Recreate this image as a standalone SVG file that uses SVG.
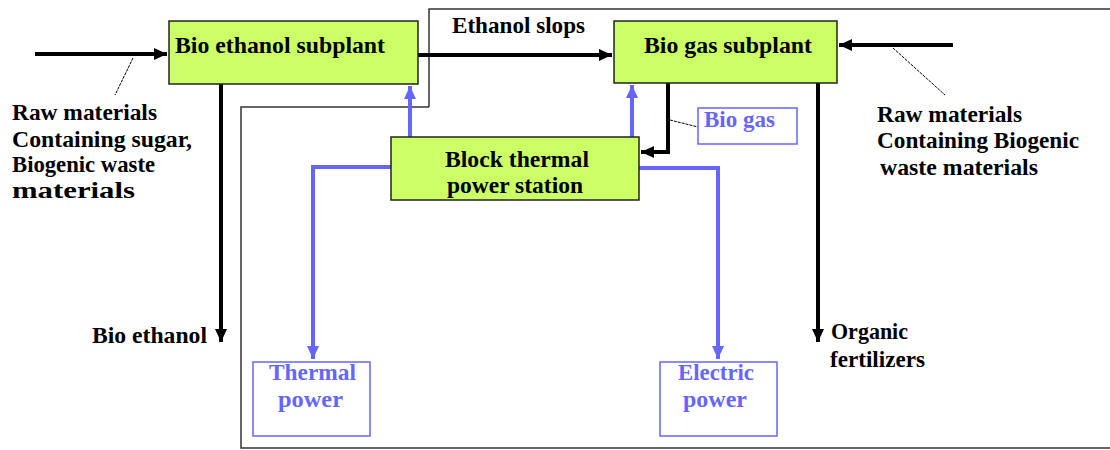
<svg xmlns="http://www.w3.org/2000/svg" width="1110" height="450" viewBox="0 0 1110 450" font-family="'Liberation Serif', 'Times New Roman', 'DejaVu Serif', serif">
<style>
text{font-weight:bold;font-size:24px;fill:#000}
.box{fill:#CCFF66;stroke:#222;stroke-width:1.5}
.bbox{fill:#fff;stroke:#6666FF;stroke-width:1.5}
text.blue{fill:#6666FF}
.blk{fill:none;stroke:#000;stroke-width:4}
.bl{fill:none;stroke:#6666FF;stroke-width:4}
.frame{fill:none;stroke:#333;stroke-width:1.5}
.lead{fill:none;stroke:#000;stroke-width:1;stroke-dasharray:3 1}
</style>
<defs>
<marker id="ab" markerUnits="userSpaceOnUse" markerWidth="14" markerHeight="14" refX="13" refY="7" orient="auto"><path d="M0,1 L13,7 L0,13 z" fill="#000"/></marker>
<marker id="au" markerUnits="userSpaceOnUse" markerWidth="14" markerHeight="14" refX="13" refY="7" orient="auto"><path d="M0,1 L13,7 L0,13 z" fill="#6666FF"/></marker>
</defs>
<g id="frame">
<path class="frame" d="M429,107 L429,9 L1110,9"/>
<path class="frame" d="M429,107 L241,107 L241,448 L1110,448"/>
</g>
<g id="connectors">
<path class="blk" d="M35,54 L167,54" marker-end="url(#ab)"/>
<path class="lead" d="M133,58 L115,95"/>
<path class="blk" d="M953,45 L839,45" marker-end="url(#ab)"/>
<path class="lead" d="M893,48 L945,95"/>
<path class="blk" d="M418,55 L612,55" marker-end="url(#ab)"/>
<path class="blk" d="M221,84 L221,342" marker-end="url(#ab)"/>
<path class="blk" d="M818,83 L818,342" marker-end="url(#ab)"/>
<path class="blk" d="M668,83 L668,152 L641,152" marker-end="url(#ab)"/>
<path class="lead" d="M670,120 L698,127"/>
<path class="bl" d="M410,137 L410,86" marker-end="url(#au)"/>
<path class="bl" d="M632,137 L632,85" marker-end="url(#au)"/>
<path class="bl" d="M391,167 L313,167 L313,359" marker-end="url(#au)"/>
<path class="bl" d="M639,168 L718,168 L718,359" marker-end="url(#au)"/>
</g>
<g id="bio-ethanol-subplant">
<rect class="box" x="169" y="21" width="249" height="63"/>
<text x="175" y="53" textLength="210" lengthAdjust="spacingAndGlyphs">Bio ethanol subplant</text>
</g>
<g id="bio-gas-subplant">
<rect class="box" x="614" y="21" width="223" height="62"/>
<text x="644" y="53" textLength="168" lengthAdjust="spacingAndGlyphs">Bio gas subplant</text>
</g>
<g id="block-thermal">
<rect class="box" x="391" y="137" width="248" height="63"/>
<text x="445" y="167" textLength="144" lengthAdjust="spacingAndGlyphs">Block thermal</text>
<text x="447" y="193" textLength="136" lengthAdjust="spacingAndGlyphs">power station</text>
</g>
<g id="bio-gas-label">
<rect class="bbox" x="698" y="108" width="99" height="36"/>
<text class="blue" x="704" y="127" textLength="71" lengthAdjust="spacingAndGlyphs">Bio gas</text>
</g>
<g id="thermal-power">
<rect class="bbox" x="253" y="362" width="117" height="74"/>
<text class="blue" x="269" y="380" textLength="87" lengthAdjust="spacingAndGlyphs">Thermal</text>
<text class="blue" x="278" y="407" textLength="65" lengthAdjust="spacingAndGlyphs">power</text>
</g>
<g id="electric-power">
<rect class="bbox" x="660" y="362" width="117" height="74"/>
<text class="blue" x="678" y="380" textLength="76" lengthAdjust="spacingAndGlyphs">Electric</text>
<text class="blue" x="683" y="407" textLength="64" lengthAdjust="spacingAndGlyphs">power</text>
</g>
<g id="labels">
<text x="452" y="33" textLength="133" lengthAdjust="spacingAndGlyphs">Ethanol slops</text>
<text x="12" y="120" textLength="145" lengthAdjust="spacingAndGlyphs">Raw materials</text>
<text x="12" y="147" textLength="180" lengthAdjust="spacingAndGlyphs">Containing sugar,</text>
<text x="12" y="172" textLength="143" lengthAdjust="spacingAndGlyphs">Biogenic waste</text>
<text x="12" y="198" textLength="123" lengthAdjust="spacingAndGlyphs">materials</text>
<text x="877" y="122" textLength="145" lengthAdjust="spacingAndGlyphs">Raw materials</text>
<text x="877" y="148" textLength="202" lengthAdjust="spacingAndGlyphs">Containing Biogenic</text>
<text x="880" y="175" textLength="158" lengthAdjust="spacingAndGlyphs">waste materials</text>
<text x="92" y="343" textLength="115" lengthAdjust="spacingAndGlyphs">Bio ethanol</text>
<text x="831" y="339" textLength="77" lengthAdjust="spacingAndGlyphs">Organic</text>
<text x="830" y="367" textLength="95" lengthAdjust="spacingAndGlyphs">fertilizers</text>
</g>
</svg>
